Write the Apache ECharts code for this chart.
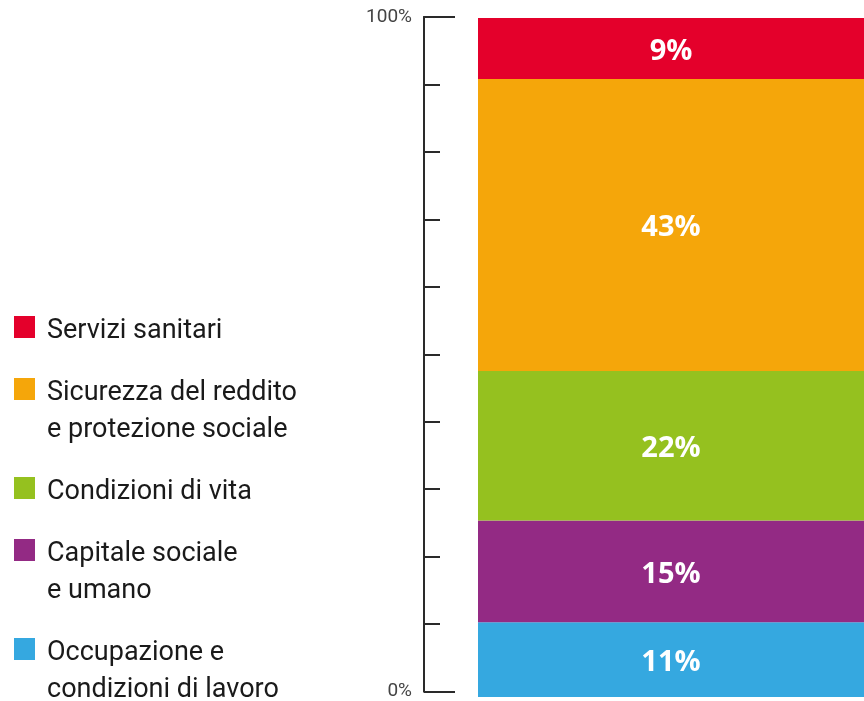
<!DOCTYPE html>
<html>
<head>
<meta charset="utf-8">
<script src="https://cdn.jsdelivr.net/npm/echarts@6/dist/echarts.min.js"></script>
<style>
  html, body { margin: 0; padding: 0; background: #fff; }
  #chart { width: 864px; height: 701px; }
</style>
</head>
<body>
<div id="chart"></div>
<script>
// data, bottom of the stack first
const categories = ['Totale']
const seriesNames = [
  'Occupazione e\ncondizioni di lavoro',
  'Capitale sociale\ne umano',
  'Condizioni di vita',
  'Sicurezza del reddito\ne protezione sociale',
  'Servizi sanitari',
]
const seriesValues = [11, 15, 22, 43, 9]
const seriesColors = ['#35a8e0', '#932a84', '#95c11f', '#f5a60a', '#e4002b']
const tickLabels = ['0%', '100%']

const chart = echarts.init(document.getElementById('chart'))

// legend drawn by hand so the square sits on the first line of the text
const legendItems = []
let y = 327
for (let i = seriesNames.length - 1; i >= 0; i--) {
  const lines = seriesNames[i].split('\n').length
  legendItems.push({
    type: 'rect',
    left: 14,
    top: y - 11,
    shape: { width: 21, height: 22 },
    style: { fill: seriesColors[i] },
  })
  legendItems.push({
    type: 'text',
    left: 47,
    top: y - 14,
    style: {
      text: seriesNames[i],
      fill: '#1a1a1a',
      font: '27px Roboto',
      lineHeight: 37,
    },
  })
  y += 62 + (lines - 1) * 37
}

const axisLine = { show: true, lineStyle: { color: '#2a2a2a', width: 2 } }

const option = {
  animation: false,
  grid: [
    { left: 478, right: -4, top: 18, bottom: 4 },
    { left: 424, width: 2, top: 17, bottom: 7 },
  ],
  xAxis: [
    { type: 'category', data: categories, gridIndex: 0, show: false },
    { type: 'category', data: categories, gridIndex: 1, show: false },
  ],
  yAxis: [
    { type: 'value', gridIndex: 0, min: 0, max: 100, show: false },
    {
      type: 'value',
      gridIndex: 1,
      position: 'left',
      min: 0,
      max: 100,
      interval: 10,
      axisLine: axisLine,
      axisTick: { show: true, inside: true, length: 16, lineStyle: { color: '#2a2a2a', width: 2 } },
      axisLabel: { show: false },
      splitLine: { show: false },
    },
    {
      type: 'value',
      gridIndex: 1,
      position: 'left',
      min: 0,
      max: 100,
      interval: 100,
      axisLine: axisLine,
      axisTick: { show: true, inside: true, length: 31, lineStyle: { color: '#2a2a2a', width: 2 } },
      axisLabel: {
        margin: 12,
        color: '#444',
        fontSize: 19,
        fontFamily: 'Roboto',
        formatter: (v) => tickLabels[v / 100],
      },
      splitLine: { show: false },
    },
  ],
  graphic: legendItems,
  series: seriesValues.map((v, i) => ({
    name: seriesNames[i],
    type: 'bar',
    stack: 'tot',
    barWidth: '100%',
    xAxisIndex: 0,
    yAxisIndex: 0,
    data: [v],
    itemStyle: { color: seriesColors[i] },
    label: {
      show: true,
      position: 'inside',
      offset: [0, 3],
      formatter: '{c}%',
      color: '#fff',
      fontSize: 29,
      fontWeight: 'bold',
      fontFamily: 'Open Sans',
    },
  })),
}

chart.setOption(option)
</script>
</body>
</html>
